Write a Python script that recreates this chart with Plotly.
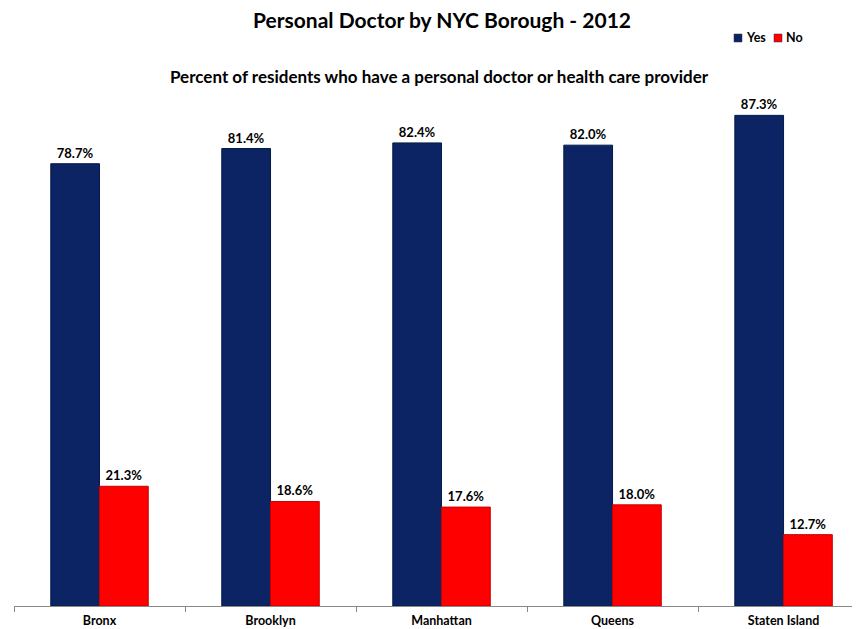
import plotly.graph_objects as go

boroughs = ["Bronx", "Brooklyn", "Manhattan", "Queens", "Staten Island"]
yes_vals = [78.7, 81.4, 82.4, 82.0, 87.3]
no_vals = [21.3, 18.6, 17.6, 18.0, 12.7]

FONT = "Lato"
OFF = 8  # default page body margin offsets the figure by 8px
W, H = 860 - OFF, 629 - OFF
L, R, T, B = 14 - OFF, 0, 44 - OFF, 23
PW, PH = W - L - R, H - T - B

def px(x):  # reference page x -> paper
    return (x - OFF - L) / PW

def py(y):  # reference page y -> paper
    return (H - B - (y - OFF)) / PH

fig = go.Figure()
fig.add_trace(go.Bar(
    x=boroughs, y=yes_vals, name="Yes",
    marker=dict(color="#0c2463", line=dict(color="#061a4a", width=1)),
    text=[f"{v:.1f}%" for v in yes_vals], textposition="outside",
    textfont=dict(family=FONT, size=13, color="black", weight="bold"),
    cliponaxis=False,
))
fig.add_trace(go.Bar(
    x=boroughs, y=no_vals, name="No",
    marker=dict(color="#ff0000", line=dict(color="#c80000", width=1)),
    text=[f"{v:.1f}%" for v in no_vals], textposition="outside",
    textfont=dict(family=FONT, size=13, color="black", weight="bold"),
    cliponaxis=False,
))

legend_items = [("Yes", "#0c2463", 734), ("No", "#ff0000", 774)]
shapes = []
annotations = [dict(text="<b>Percent of residents who have a personal doctor or health care provider</b>",
                    x=px(439), y=py(77), xref="paper", yref="paper", showarrow=False,
                    xanchor="center", yanchor="middle",
                    font=dict(family=FONT, size=17, color="black"))]
for name, col, x0 in legend_items:
    shapes.append(dict(type="rect", xref="paper", yref="paper",
                       x0=px(x0), x1=px(x0 + 8), y0=py(42), y1=py(34),
                       fillcolor=col, line=dict(color="#333333", width=0.5)))
    annotations.append(dict(text=f"<b>{name}</b>", x=px(x0 + 10), y=py(38), xref="paper", yref="paper",
                            showarrow=False, xanchor="left", yanchor="middle",
                            font=dict(family=FONT, size=12.5, color="black")))

fig.update_layout(
    width=W, height=H,
    margin=dict(l=L, r=R, t=T, b=B, autoexpand=False),
    paper_bgcolor="white", plot_bgcolor="white",
    barmode="group", bargap=0.43, bargroupgap=0,
    font=dict(family=FONT, color="black"),
    title=dict(text="<b>Personal Doctor by NYC Borough - 2012</b>",
               x=(442 - OFF) / W, xanchor="center", y=1 - (21 - OFF) / H, yanchor="middle",
               font=dict(family=FONT, size=21, color="black")),
    showlegend=False,
    shapes=shapes,
    annotations=annotations,
)
fig.update_xaxes(
    range=[-0.5, 4.447],
    showline=True, linecolor="#888888", linewidth=1,
    ticks="outside", tickson="boundaries", ticklen=5, tickcolor="#888888",
    ticklabelstandoff=3,
    tickfont=dict(family=FONT, size=12.5, color="black", weight="bold"),
    showgrid=False, automargin=False,
)
fig.update_yaxes(range=[0, 100], visible=False, showgrid=False, automargin=False)

fig.write_html("out.html")
